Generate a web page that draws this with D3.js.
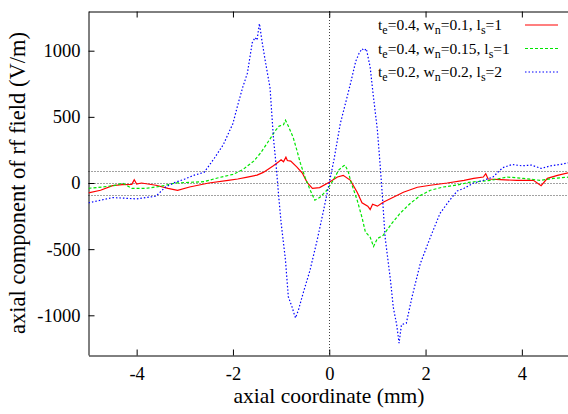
<!DOCTYPE html>
<html>
<head>
<meta charset="utf-8">
<script src="https://cdn.jsdelivr.net/npm/d3@7"></script>
<style>
  body { margin: 0; background: #fff; }
  svg { display: block; font-family: "Liberation Serif", "Times New Roman", serif; }
</style>
</head>
<body>
<div id="chart"></div>
<script>
// axial field profiles
const redX = [-5, -4.75, -4.5, -4.3, -4.1, -4.05, -4.0, -3.9, -3.6, -3.35, -3.15, -2.9, -2.5, -2.1, -1.9, -1.7, -1.5, -1.37, -1.16, -1.05, -1.0, -0.95, -0.9, -0.87, -0.8, -0.67, -0.56, -0.46, -0.35, -0.2, 0, 0.17, 0.29, 0.44, 0.58, 0.68, 0.8, 0.85, 0.9, 1.0, 1.12, 1.33, 1.54, 1.83, 2.1, 2.45, 2.8, 3.0, 3.2, 3.25, 3.3, 3.55, 3.9, 4.24, 4.4, 4.53, 4.74, 5.0];
const redY = [-75, -55, -20, -12, -10, 25, -8, 0, -17, -40, -55, -30, 0, 20, 30, 45, 60, 80, 130, 160, 175, 160, 195, 170, 165, 120, 75, 5, -40, -35, 5, 45, 58, 20, -70, -150, -175, -200, -160, -175, -145, -108, -70, -32, -17, 0, 20, 35, 45, 70, 30, 25, 20, 20, -20, 35, 58, 80];

const greenX = [-5, -4.7, -4.4, -4.3, -4.1, -3.8, -3.5, -3.2, -2.9, -2.6, -2.3, -2.0, -1.8, -1.57, -1.43, -1.29, -1.12, -1.04, -0.95, -0.91, -0.85, -0.75, -0.67, -0.6, -0.5, -0.4, -0.3, -0.2, -0.05, 0.08, 0.2, 0.3, 0.33, 0.4, 0.44, 0.58, 0.68, 0.75, 0.85, 0.92, 1.0, 1.12, 1.3, 1.47, 1.68, 1.89, 2.1, 2.37, 2.66, 2.9, 3.35, 3.7, 4.03, 4.38, 4.65, 5.0];
const greenY = [-40, -30, -15, 0, -40, -40, -25, 0, 5, 10, 40, 65, 100, 165, 225, 300, 395, 430, 440, 475, 430, 345, 245, 150, 40, -50, -130, -110, -55, 20, 100, 130, 135, 80, 20, -130, -260, -370, -410, -480, -420, -395, -305, -230, -155, -95, -55, -30, -15, 5, 20, 45, 35, 20, 35, 45];

const blueX = [-5, -4.5, -4.0, -3.8, -3.6, -3.4, -3.2, -3.0, -2.8, -2.6, -2.4, -2.2, -2.0, -1.9, -1.8, -1.7, -1.6, -1.54, -1.5, -1.45, -1.4, -1.33, -1.23, -1.16, -1.1, -1.05, -1.0, -0.91, -0.85, -0.77, -0.72, -0.7, -0.64, -0.54, -0.4, -0.25, -0.12, 0, 0.1, 0.23, 0.35, 0.44, 0.55, 0.62, 0.68, 0.73, 0.77, 0.85, 0.91, 1.0, 1.06, 1.1, 1.16, 1.27, 1.33, 1.4, 1.45, 1.5, 1.6, 1.72, 1.89, 2.1, 2.3, 2.5, 2.66, 2.8, 3.0, 3.2, 3.4, 3.6, 3.8, 4.0, 4.2, 4.4, 4.6, 4.8, 5.0];
const blueY = [-150, -110, -120, -110, -100, -30, 5, 30, 60, 80, 180, 290, 450, 590, 720, 830, 1060, 1100, 1080, 1205, 1080, 925, 720, 345, 120, -100, -300, -580, -860, -940, -1000, -1020, -960, -830, -660, -430, -210, 0, 180, 450, 620, 750, 920, 980, 1015, 1000, 1015, 875, 675, 400, 120, -80, -410, -730, -940, -1070, -1210, -1070, -1060, -860, -610, -410, -230, -130, -60, -40, 0, 20, 45, 115, 140, 130, 135, 110, 130, 140, 155];

const seriesNames = [["t", "e", "=0.4, w", "n", "=0.1, l", "s", "=1"],
                     ["t", "e", "=0.4, w", "n", "=0.15, l", "s", "=1"],
                     ["t", "e", "=0.2, w", "n", "=0.2, l", "s", "=2"]];
const xTicks = [-4, -2, 0, 2, 4];
const yTicks = [-1000, -500, 0, 500, 1000];
const bandLevels = [-88, 0, 88];

const W = 568, H = 414;
const serif = '"Liberation Serif", "Times New Roman", serif';
const x = d3.scaleLinear().domain([-5, 5]).range([88.5, 570]);
const y = d3.scaleLinear().domain([-1300, 1300]).range([355, 11]);

const svg = d3.select("#chart").append("svg")
    .attr("width", W).attr("height", H);

// reference lines
svg.append("g").selectAll("line")
    .data(bandLevels)
    .enter().append("line")
    .attr("x1", x(-5)).attr("x2", x(5))
    .attr("y1", d => Math.round(y(d)) + 0.5).attr("y2", d => Math.round(y(d)) + 0.5)
    .attr("stroke", "#444").attr("stroke-dasharray", "1,2");
svg.append("line")
    .attr("x1", Math.round(x(0)) + 0.5).attr("x2", Math.round(x(0)) + 0.5)
    .attr("y1", y(1300)).attr("y2", y(-1300))
    .attr("stroke", "#444").attr("stroke-dasharray", "1,2");

// axes
const fmt = d => String(d);
const xAxis = svg.append("g").attr("transform", "translate(0,355.5)")
    .call(d3.axisBottom(x).tickValues(xTicks).tickFormat(fmt).tickSizeInner(-6).tickSizeOuter(0));
const xTop = svg.append("g").attr("transform", "translate(0,11.5)")
    .call(d3.axisTop(x).tickValues(xTicks).tickSizeInner(-6).tickSizeOuter(0).tickFormat(""));
const yAxis = svg.append("g").attr("transform", "translate(88.5,0)")
    .call(d3.axisLeft(y).tickValues(yTicks).tickFormat(fmt).tickSizeInner(-6).tickSizeOuter(0).tickPadding(8));
[xAxis, xTop, yAxis].forEach(g => {
  g.attr("font-family", null).attr("font-size", null);
  g.select(".domain").attr("stroke", "#000");
  g.selectAll(".tick line").attr("stroke", "#000");
  g.selectAll("text").style("font-family", serif).style("font-size", "18.5px").attr("fill", "#000");
});
xAxis.selectAll("text").attr("y", 24).attr("dy", null);

// curves
const line = d3.line().x(d => x(d[0])).y(d => y(d[1]));
const series = [
  { xs: redX, ys: redY, color: "#ff0000", dash: null, w: 1.2 },
  { xs: greenX, ys: greenY, color: "#00e600", dash: "3,2", w: 1.2 },
  { xs: blueX, ys: blueY, color: "#0000ff", dash: "1.5,2", w: 1.2 }
];
svg.append("clipPath").attr("id", "clip").append("rect")
    .attr("x", 88.5).attr("y", 11).attr("width", 482).attr("height", 344);
series.forEach(s => {
  svg.append("path")
    .datum(s.xs.map((v, i) => [v, s.ys[i]]))
    .attr("clip-path", "url(#clip)")
    .attr("fill", "none")
    .attr("stroke", s.color)
    .attr("stroke-width", s.w)
    .attr("stroke-dasharray", s.dash)
    .attr("d", line);
});

// legend
const legend = svg.append("g");
seriesNames.forEach((parts, i) => {
  const yy = 25 + i * 23.5;
  const t = legend.append("text")
      .attr("x", 378).attr("y", yy + 5)
      .style("font-family", serif).style("font-size", "15.5px").attr("fill", "#000");
  parts.forEach((p, j) => {
    if (j % 2 === 1) {
      t.append("tspan").attr("dy", 4).style("font-size", "12px").text(p);
    } else {
      t.append("tspan").attr("dy", j === 0 ? 0 : -4).text(p);
    }
  });
  legend.append("line")
      .attr("x1", 525).attr("x2", 558).attr("y1", yy).attr("y2", yy)
      .attr("stroke", series[i].color).attr("stroke-width", 1.2)
      .attr("stroke-dasharray", series[i].dash);
});

// axis titles
svg.append("text")
    .attr("x", 329).attr("y", 403)
    .attr("text-anchor", "middle").style("font-family", serif).style("font-size", "21.5px")
    .text("axial coordinate (mm)");
svg.append("text")
    .attr("transform", "translate(25,183) rotate(-90)")
    .attr("text-anchor", "middle").style("font-family", serif).style("font-size", "22.5px")
    .text("axial component of rf field (V/m)");
</script>
</body>
</html>
